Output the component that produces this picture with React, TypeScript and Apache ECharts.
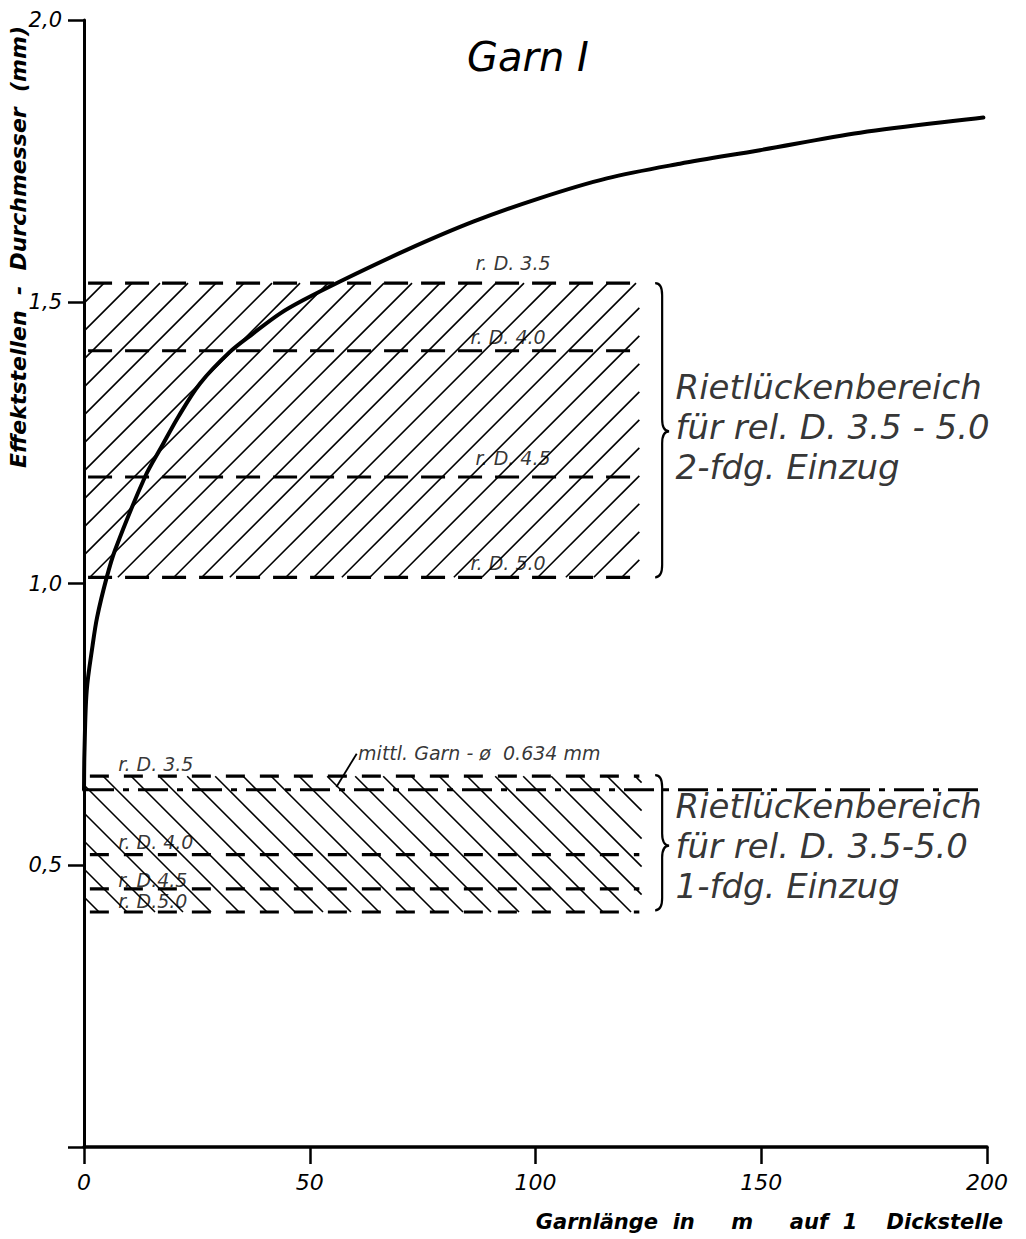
import React, { useEffect, useRef } from "react";
import * as echarts from "echarts";

// ---- data ----
const curveX = [0, 0.1, 0.6, 1.9, 2.9, 5.0, 6.9, 13.5, 17.2, 20.9, 25.7, 32.3, 37.5, 43.4, 48.6, 56.7, 71.5, 86.2, 101, 115.8, 132, 149.7, 171.9, 199.2];
const curveY = [0.634, 0.7, 0.81, 0.89, 0.94, 1.01, 1.06, 1.189, 1.243, 1.296, 1.355, 1.411, 1.444, 1.479, 1.503, 1.536, 1.592, 1.642, 1.684, 1.719, 1.745, 1.769, 1.8, 1.827];

const upperLevels = [1.533, 1.413, 1.189, 1.011];
const lowerLevels = [0.658, 0.519, 0.458, 0.417];
const upperLevelStart = 0.9;
const lowerLevelStart = 1.3;
const levelEnd = 123;

const meanDiameter = 0.634;
const meanLineX = [0, 200];
const leaderX = [55.9, 60.4];
const leaderY = [0.639, 0.698];
const meanText = "mittl. Garn - ø  0.634 mm";
const meanTextX = 60.6;
const meanTextY = 0.7;

const upperLabels = ["r. D. 3.5", "r. D. 4.0", "r. D. 4.5", "r. D. 5.0"];
const upperLabelX = [86.6, 85.5, 86.6, 85.5];
const upperLabelY = [1.569, 1.437, 1.222, 1.036];
const lowerLabels = ["r. D. 3.5", "r. D. 4.0", "r. D.4.5", "r. D.5.0"];
const lowerLabelX = [7.5, 7.5, 7.5, 7.5];
const lowerLabelY = [0.679, 0.542, 0.473, 0.436];

// hatched regions: [xStart, xEnd, yLow, yHigh]
const hatchUpper = [0, 123, 1.011, 1.533];
const hatchLower = [0, 123.5, 0.417, 0.658];

// braces: x, top, bottom, tip
const braceX = [126.5, 126.5];
const braceTop = [1.533, 0.66];
const braceBottom = [1.011, 0.42];
const braceTip = [1.27, 0.535];

const blockX = [130.9, 130.9];
const blockY = [1.2775, 0.535];
const blockTexts = [
  ["Rietlückenbereich", "für rel. D. 3.5 - 5.0", "2-fdg. Einzug"],
  ["Rietlückenbereich", "für rel. D. 3.5-5.0", "1-fdg. Einzug"],
];

const xTicks = [0, 50, 100, 150, 200];
const yTicks = [0, 0.5, 1.0, 1.5, 2.0];

const titleText = "Garn I";
const xName = "Garnlänge  in     m     auf  1    Dickstelle";
const yName = "Effektstellen  -  Durchmesser  (mm)";

const FONT = '"DejaVu Sans", sans-serif';

function hatchRender(dir: number, phase: number) {
  return (params: any, api: any) => {
    const p0 = api.coord([api.value(0), api.value(3)]);
    const p1 = api.coord([api.value(1), api.value(2)]);
    const L = p0[0], T = p0[1], R = p1[0], B = p1[1];
    const step = 28;
    const children: any[] = [];
    if (dir > 0) {
      for (let c = L + T + phase; c <= R + B; c += step) {
        const xa = Math.max(L, c - B);
        const xb = Math.min(R, c - T);
        if (xb - xa < 1) continue;
        children.push({
          type: "line",
          shape: { x1: xa, y1: c - xa, x2: xb, y2: c - xb },
          style: { stroke: "#000", lineWidth: 1.6 },
        });
      }
    } else {
      for (let c = L - B + phase; c <= R - T; c += step) {
        const xa = Math.max(L, c + T);
        const xb = Math.min(R, c + B);
        if (xb - xa < 1) continue;
        children.push({
          type: "line",
          shape: { x1: xa, y1: xa - c, x2: xb, y2: xb - c },
          style: { stroke: "#000", lineWidth: 1.6 },
        });
      }
    }
    return { type: "group", children };
  };
}

function braceRender(params: any, api: any) {
  const top = api.coord([api.value(0), api.value(1)]);
  const bot = api.coord([api.value(0), api.value(2)]);
  const tip = api.coord([api.value(0), api.value(3)]);
  const x = top[0];
  const w = 7;
  const r = 12;
  const d =
    `M${x},${top[1]} Q${x + w},${top[1]} ${x + w},${top[1] + r} ` +
    `L${x + w},${tip[1] - r} Q${x + w},${tip[1]} ${x + 2 * w},${tip[1]} ` +
    `Q${x + w},${tip[1]} ${x + w},${tip[1] + r} ` +
    `L${x + w},${bot[1] - r} Q${x + w},${bot[1]} ${x},${bot[1]}`;
  return {
    type: "path",
    shape: { pathData: d },
    style: { stroke: "#000", fill: "none", lineWidth: 2.2 },
  };
}

// smooth curve through the read points (chord-length scaled tangents), positioned by the axes
function curveRender(params: any, api: any) {
  if (params.dataIndex !== 0) return null;
  const pts = curveX.map((x, i) => api.coord([x, curveY[i]]));
  const n = pts.length;
  const tan = pts.map((p: number[], i: number) => {
    const a = pts[Math.max(0, i - 1)];
    const b = pts[Math.min(n - 1, i + 1)];
    const dx = b[0] - a[0], dy = b[1] - a[1];
    const l = Math.hypot(dx, dy) || 1;
    return [dx / l, dy / l];
  });
  let d = `M${pts[0][0]},${pts[0][1]}`;
  for (let i = 0; i < n - 1; i++) {
    const p = pts[i], q = pts[i + 1];
    const len = Math.hypot(q[0] - p[0], q[1] - p[1]) / 3;
    const c1 = [p[0] + tan[i][0] * len, p[1] + tan[i][1] * len];
    const c2 = [q[0] - tan[i + 1][0] * len, q[1] - tan[i + 1][1] * len];
    d += ` C${c1[0]},${c1[1]} ${c2[0]},${c2[1]} ${q[0]},${q[1]}`;
  }
  return {
    type: "path",
    shape: { pathData: d },
    style: { stroke: "#000", fill: "none", lineWidth: 4, lineCap: "round", lineJoin: "round" },
  };
}

function levelSeries(levels: number[], start: number, dash: number[]) {
  return levels.map((v) => ({
    type: "line",
    data: [
      [start, v],
      [levelEnd, v],
    ],
    symbol: "none",
    silent: true,
    z: 4,
    lineStyle: { color: "#000", width: 3.2, type: dash },
  }));
}

function labelSeries(xs: number[], ys: number[], texts: string[], fontSize: number, extra: any = {}) {
  return {
    type: "scatter",
    symbolSize: 1,
    silent: true,
    z: 6,
    itemStyle: { color: "rgba(0,0,0,0)" },
    data: xs.map((x, i) => ({ value: [x, ys[i]], label: { formatter: texts[i] } })),
    label: {
      show: true,
      position: "right",
      distance: 0,
      color: "#000",
      fontFamily: FONT,
      fontStyle: "italic",
      fontSize,
      ...extra,
    },
  };
}

export default function App() {
  const ref = useRef<HTMLDivElement>(null);
  useEffect(() => {
    if (!ref.current) return;
    const chart = echarts.init(ref.current, undefined, { renderer: "svg" });
    const option: any = {
      animation: false,
      backgroundColor: "#fff",
      title: {
        text: titleText,
        left: 467,
        top: 37,
        padding: 0,
        textStyle: { fontFamily: FONT, fontSize: 40, fontStyle: "italic", fontWeight: "normal", color: "#000" },
      },
      grid: { left: 84, right: 39, top: 20, bottom: 92 },
      xAxis: {
        type: "value",
        min: xTicks[0],
        max: xTicks[xTicks.length - 1],
        interval: 50,
        axisLine: { onZero: false, lineStyle: { color: "#000", width: 3.5 } },
        axisTick: { length: 17, lineStyle: { color: "#000", width: 2.5 } },
        axisLabel: { margin: 24, color: "#000", fontFamily: FONT, fontStyle: "italic", fontSize: 22 },
        splitLine: { show: false },
      },
      yAxis: {
        type: "value",
        min: yTicks[0],
        max: yTicks[yTicks.length - 1],
        interval: 0.5,
        axisLine: { show: true, onZero: false, lineStyle: { color: "#000", width: 3 } },
        axisTick: { show: true, length: 16, lineStyle: { color: "#000", width: 2.5 } },
        axisLabel: {
          margin: 22,
          color: "#000",
          fontFamily: FONT,
          fontStyle: "italic",
          fontSize: 21,
          formatter: (v: number) => (v === 0 ? "" : v.toFixed(1).replace(".", ",")),
        },
        splitLine: { show: false },
      },
      graphic: [
        {
          type: "text",
          right: 23,
          top: 1211,
          style: { text: xName, fontFamily: FONT, fontSize: 21, fontStyle: "italic", fontWeight: "bold", fill: "#000" },
        },
        {
          type: "text",
          x: 18,
          y: 247,
          rotation: Math.PI / 2,
          style: {
            text: yName,
            fontFamily: FONT,
            fontSize: 22,
            fontStyle: "italic",
            fontWeight: "bold",
            fill: "#000",
            align: "center",
            verticalAlign: "middle",
          },
        },
      ],
      series: [
        {
          type: "custom",
          renderItem: hatchRender(1, 20),
          data: [hatchUpper],
          silent: true,
          z: 2,
        },
        {
          type: "custom",
          renderItem: hatchRender(-1, 15),
          data: [hatchLower],
          silent: true,
          z: 2,
        },
        {
          type: "custom",
          renderItem: braceRender,
          data: braceX.map((x, i) => [x, braceTop[i], braceBottom[i], braceTip[i]]),
          silent: true,
          clip: false,
          z: 3,
        },
        ...levelSeries(upperLevels, upperLevelStart, [24, 13]),
        ...levelSeries(lowerLevels, lowerLevelStart, [19, 15]),
        {
          type: "line",
          data: meanLineX.map((x) => [x, meanDiameter]),
          symbol: "none",
          silent: true,
          z: 4,
          lineStyle: { color: "#000", width: 3.2, type: [30, 9, 6, 9] },
        },
        {
          type: "line",
          data: leaderX.map((x, i) => [x, leaderY[i]]),
          symbol: "none",
          silent: true,
          z: 4,
          lineStyle: { color: "#000", width: 1.8 },
        },
        {
          type: "custom",
          renderItem: curveRender,
          data: curveX.map((x, i) => [x, curveY[i]]),
          silent: true,
          clip: false,
          z: 5,
        },
        labelSeries(upperLabelX, upperLabelY, upperLabels, 19),
        labelSeries(lowerLabelX, lowerLabelY, lowerLabels, 19),
        labelSeries([meanTextX], [meanTextY], [meanText], 19),
        labelSeries(blockX, blockY, blockTexts.map((b) => b.join("\n")), 34, { lineHeight: 40 }),
      ],
    };
    chart.setOption(option);
    return () => chart.dispose();
  }, []);
  return (
    <div
      ref={ref}
      style={{ position: "absolute", left: 0, top: 0, width: 1026, height: 1239 }}
    />
  );
}
